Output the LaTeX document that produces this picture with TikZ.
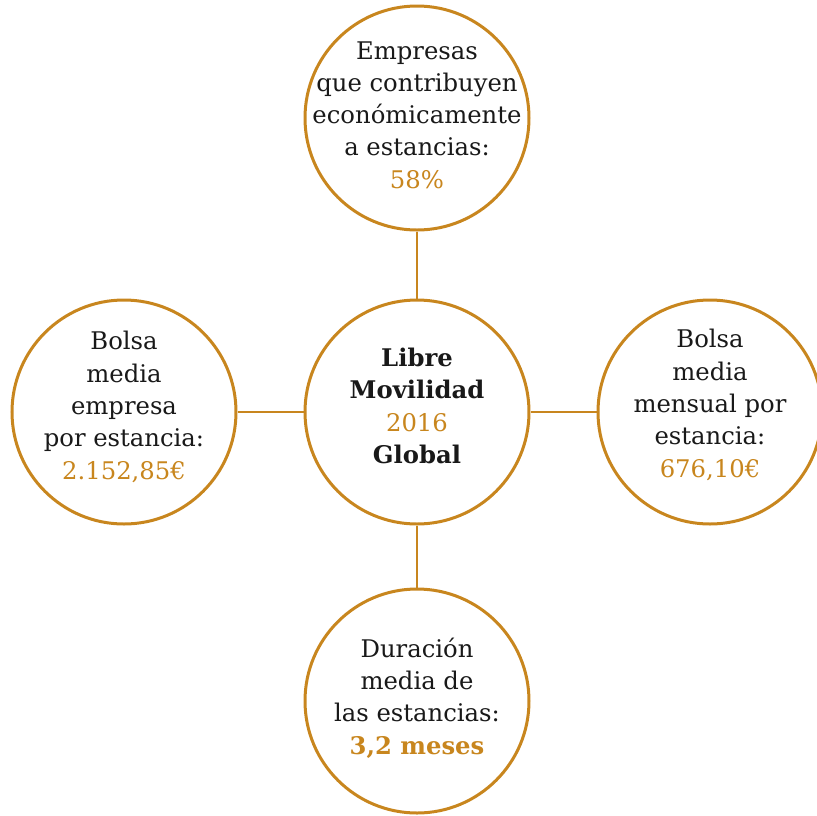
\documentclass[tikz,border=0pt]{standalone}
\usepackage{fontspec}
\setmainfont{DejaVu Serif}
\definecolor{gold}{HTML}{C8861E}
\begin{document}
\begin{tikzpicture}[x=1pt,y=-1pt,
  ring/.style={circle,draw=gold,line width=3pt,minimum size=224pt,inner sep=0pt},
  link/.style={draw=gold,line width=1.6pt},
  txt/.style={align=center,font=\fontsize{24.3}{32.3}\selectfont,text=black!90,inner sep=0pt},
  num/.style={text=gold}]
\useasboundingbox (0,0) rectangle (817,815);
\clip (0,0) rectangle (817,815);
\node[ring] (c) at (417,412) {};
\node[ring] (t) at (417,118) {};
\node[ring] (l) at (124,412) {};
\node[ring] (r) at (710,412) {};
\node[ring] (b) at (417,701) {};
\draw[link] (t) -- (c);
\draw[link] (l) -- (c);
\draw[link] (r) -- (c);
\draw[link] (b) -- (c);
\node[txt] (tt) at (417,115) {Empresas\\que contribuyen\\económicamente\\a estancias:\\\textcolor{gold}{58\%}};
\node[txt] (ct) at (417,406) {\textbf{Libre}\\\textbf{Movilidad}\\\textcolor{gold}{2016}\\\textbf{Global}};
\node[txt] (lt) at (124,407) {Bolsa\\media\\empresa\\por estancia:\\\textcolor{gold}{2.152,85€}};
\node[txt] (rt) at (710,405) {Bolsa\\media\\mensual por\\estancia:\\\textcolor{gold}{676,10€}};
\node[txt] (bt) at (417,698) {Duración\\media de\\las estancias:\\\textcolor{gold}{\textbf{3,2 meses}}};
\end{tikzpicture}
\end{document}
